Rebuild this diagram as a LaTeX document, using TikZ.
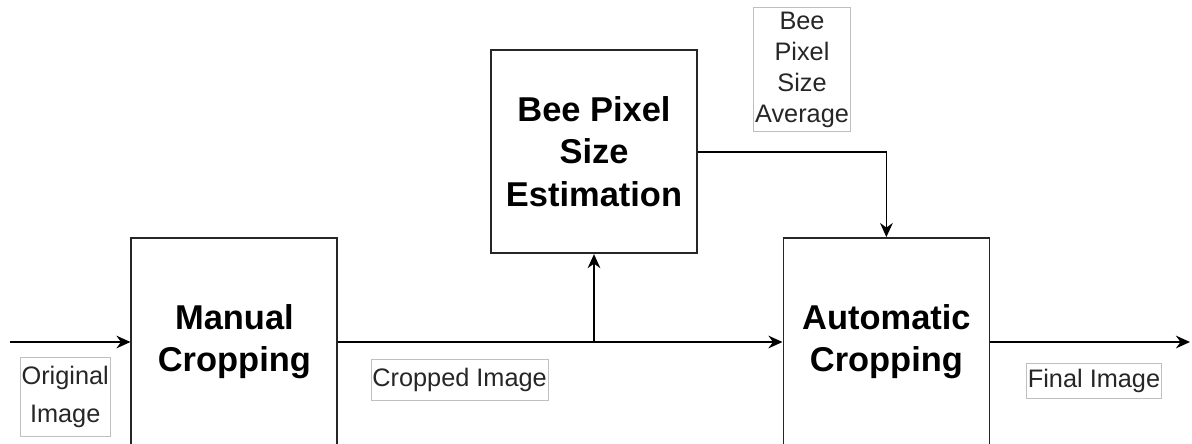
\documentclass[tikz,border=0pt]{standalone}
\usepackage{fontspec}
\setmainfont{Liberation Sans}
\usetikzlibrary{arrows.meta}

\begin{document}
\begin{tikzpicture}[>={Stealth[length=10pt,width=9pt]},line width=1.3pt,
  stagebox/.style={draw=black!85,minimum width=5.15cm,minimum height=5.2cm,align=center,font=\fontsize{24.5}{30}\selectfont\bfseries},
  tag/.style={draw=black!25,line width=0.6pt,inner xsep=1pt,inner ysep=5pt,align=center,text=black!85,font=\fontsize{18}{18}\selectfont}]
  \useasboundingbox (0,0) rectangle (29.8,-11.075);
  \node[stagebox] (man) at (5.86,-8.55) {Manual\\Cropping};
  \node[stagebox,minimum height=5.08cm] (est) at (14.85,-3.79) {Bee Pixel\\Size\\Estimation};
  \node[stagebox] (auto) at (22.16,-8.55) {Automatic\\Cropping};
  \coordinate (in) at (0.25,-8.55);
  \coordinate (out) at (29.75,-8.55);
  \coordinate (split) at (est.south |- man.east);
  \node[tag,inner ysep=6pt,font=\fontsize{18}{27}\selectfont] (orig) at (1.63,-9.92) {Original\\Image};
  \node[tag,inner ysep=6pt] (crop) at (11.49,-9.5) {Cropped Image};
  \node[tag,inner ysep=3pt,font=\fontsize{18}{22}\selectfont] (avg) at (20.05,-1.74) {Bee\\Pixel\\Size\\Average};
  \node[tag,inner ysep=4pt] (fin) at (27.35,-9.52) {Final Image};
  \draw[->] (in) -- (man.west);
  \draw[->] (man.east) -- (auto.west);
  \draw[->] (split) -- (est.south);
  \draw[->] (est.east) -| (auto.north);
  \draw[->] (auto.east) -- (out);
\end{tikzpicture}
\end{document}
